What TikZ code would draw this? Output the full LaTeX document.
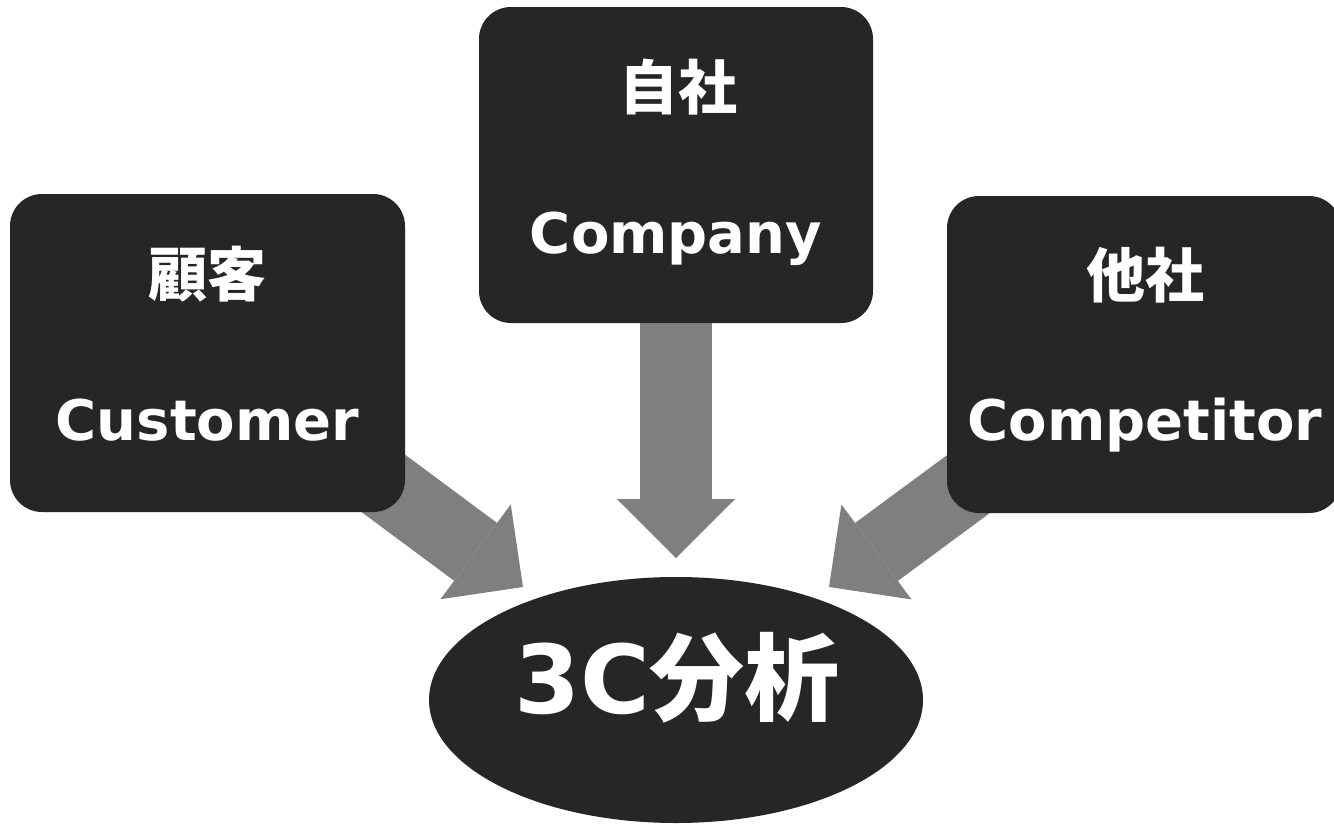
\documentclass[tikz,border=0pt]{standalone}
\usepackage{fontspec}
\setmainfont{DejaVu Sans}
\newfontfamily\jpfont{Noto Sans CJK JP}
\usetikzlibrary{arrows.meta,shapes.geometric}
\definecolor{boxfill}{HTML}{262626}
\definecolor{arrowgray}{HTML}{7F7F7F}
\pgfdeclarelayer{bg}
\pgfsetlayers{bg,main}
\begin{document}
\begin{tikzpicture}[x=1pt,y=-1pt,
  cbox/.style={rectangle, rounded corners=32pt, fill=boxfill, inner sep=0pt,
    minimum width=394pt, minimum height=316pt},
  jplabel/.style={text=white, font=\jpfont\bfseries\fontsize{59}{59}\selectfont, inner sep=0pt, anchor=center},
  enlabel/.style={text=white, font=\bfseries\fontsize{56}{56}\selectfont, inner sep=0pt, anchor=base},
  blockarrow/.style={draw=arrowgray, line width=72pt,
    -{Triangle[width=118pt,length=59pt,line width=0pt,fill=arrowgray]}}
]
\useasboundingbox (0,0) rectangle (1334,825);

% boxes
\node[cbox, minimum width=395pt, minimum height=318pt] (customer) at (207.5,353) {};
\node[cbox] (company) at (676,165) {};
\node[cbox, minimum height=317pt] (competitor) at (1144,354.5) {};

% center ellipse
\node[ellipse, fill=boxfill, minimum width=494pt, minimum height=246pt, inner sep=0pt] (analysis) at (676,700) {};

% labels
\node[jplabel] (customerjp) at (207.5,274) {顧客};
\node[enlabel] (customeren) at (207.5,440) {Customer};
\node[jplabel] (companyjp) at (678,87) {自社};
\node[enlabel] (companyen) at (676,253) {Company};
\node[jplabel] (competitorjp) at (1145,275) {他社};
\node[enlabel] (competitoren) at (1145,440) {Competitor};
\node[text=white, font=\bfseries\fontsize{95}{95}\selectfont, inner sep=0pt, anchor=base] (analysistxt) at (677,713) {3C{\jpfont\bfseries 分析}};

% arrow tips
\coordinate (tipL) at (523,587);
\coordinate (tipM) at (676,558);
\coordinate (tipR) at (829,587);

\begin{pgfonlayer}{bg}
\fill[white] (0,0) rectangle (1334,825);
\draw[blockarrow] (customer.center) -- (tipL);
\draw[blockarrow] (company.center) -- (tipM);
\draw[blockarrow] (competitor.center) -- (tipR);
\end{pgfonlayer}
\end{tikzpicture}
\end{document}
